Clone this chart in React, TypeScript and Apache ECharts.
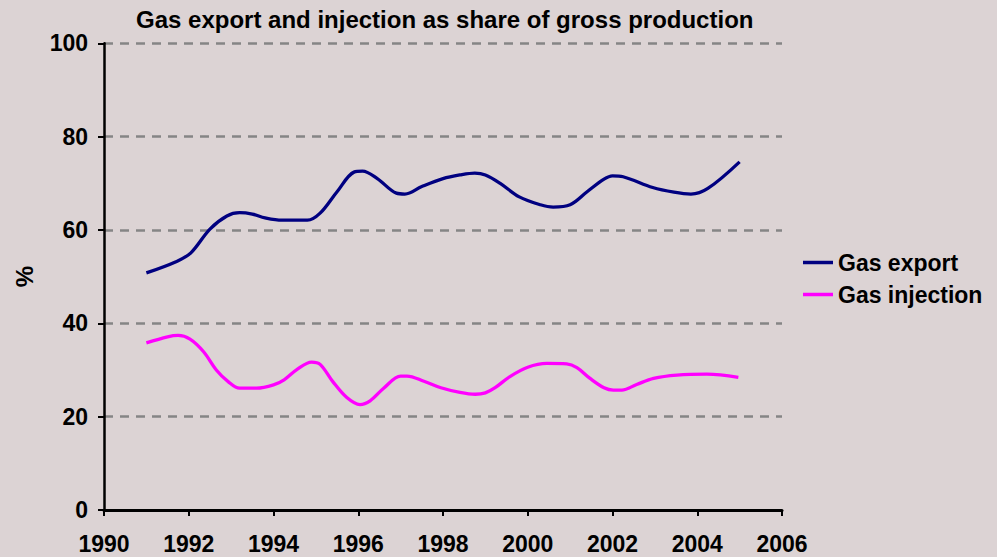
import React, { useEffect, useRef } from "react";
import * as echarts from "echarts";

const titleText = "Gas export and injection as share of gross production";
const yAxisName = "%";
const seriesNames = ["Gas export", "Gas injection"];
const seriesColors = ["#000080", "#FF00FF"];

const exportYears = [1991.0, 1991.7, 1992.05, 1992.5, 1992.9, 1993.2, 1993.5, 1993.8, 1994.2, 1994.8, 1995.1, 1995.5, 1995.9, 1996.1, 1996.45, 1996.9, 1997.1, 1997.5, 1998.0, 1998.4, 1998.75, 1999.0, 1999.35, 1999.8, 2000.3, 2000.6, 2001.0, 2001.4, 2001.8, 2002.0, 2002.25, 2002.95, 2003.45, 2003.85, 2004.25, 2005.0];
const exportValues = [50.8, 53.2, 55.1, 60.2, 63.0, 63.7, 63.4, 62.6, 62.1, 62.1, 63.6, 68.2, 72.4, 72.6, 71.0, 67.9, 67.7, 69.3, 71.0, 71.8, 72.2, 71.8, 70.0, 67.1, 65.4, 64.9, 65.4, 68.2, 70.9, 71.6, 71.4, 69.1, 68.1, 67.7, 68.9, 74.6];

const injectionYears = [1991.0, 1991.5, 1991.75, 1992.03, 1992.35, 1992.65, 1992.93, 1993.2, 1993.6, 1994.0, 1994.25, 1994.55, 1994.9, 1995.1, 1995.4, 1995.73, 1996.04, 1996.28, 1996.6, 1997.0, 1997.15, 1997.55, 1997.95, 1998.4, 1998.76, 1999.0, 1999.23, 1999.58, 2000.0, 2000.45, 2000.92, 2001.16, 2001.47, 2001.8, 2002.02, 2002.22, 2002.57, 2002.97, 2003.52, 2004.23, 2004.97];
const injectionValues = [35.8, 37.1, 37.4, 36.6, 33.9, 30.0, 27.5, 26.1, 26.1, 26.8, 27.9, 30.1, 31.7, 31.2, 27.5, 24.1, 22.6, 23.4, 26.1, 28.7, 28.7, 27.6, 26.2, 25.2, 24.8, 25.1, 26.2, 28.6, 30.6, 31.4, 31.3, 30.5, 28.2, 26.2, 25.7, 25.7, 26.9, 28.2, 28.9, 29.1, 28.4];

const xMin = 1990;
const xMax = 2006;
const xInterval = 2;
const yMin = 0;
const yMax = 100;
const yInterval = 20;

const FONT = "'Liberation Sans', Arial, Helvetica, sans-serif";

export default function App() {
  const ref = useRef<HTMLDivElement>(null);

  useEffect(() => {
    document.body.style.margin = "0";
    if (!ref.current) return;
    const chart = echarts.init(ref.current, undefined, { renderer: "svg" });
    const pair = (xs: number[], ys: number[]) => xs.map((x, i) => [x, ys[i]]);
    chart.setOption({
      animation: false,
      backgroundColor: "#DCD3D4",
      textStyle: { fontFamily: FONT },
      title: {
        text: titleText,
        left: 136,
        top: 7,
        padding: 0,
        textStyle: { fontFamily: FONT, fontSize: 24, fontWeight: "bold", color: "#000" },
      },
      grid: { left: 104, right: 215, top: 43.3, bottom: 47, containLabel: false },
      legend: {
        orient: "vertical",
        left: 798,
        top: 246,
        itemWidth: 30,
        itemHeight: 3.5,
        itemGap: 9,
        icon: "rect",
        data: seriesNames,
        textStyle: { fontFamily: FONT, fontSize: 23, fontWeight: "bold", color: "#000" },
      },
      xAxis: {
        type: "value",
        min: xMin,
        max: xMax,
        interval: xInterval,
        axisLine: { show: true, onZero: false, lineStyle: { color: "#000", width: 3 } },
        axisTick: { show: true, length: 6, lineStyle: { color: "#000", width: 2 } },
        splitLine: { show: false },
        axisLabel: {
          margin: 22,
          fontFamily: FONT,
          fontSize: 23,
          fontWeight: "bold",
          color: "#000",
          formatter: (v: number) => String(v),
        },
      },
      yAxis: {
        type: "value",
        min: yMin,
        max: yMax,
        interval: yInterval,
        name: yAxisName,
        nameLocation: "middle",
        nameRotate: 90,
        nameGap: 68,
        nameTextStyle: { fontFamily: FONT, fontSize: 24, fontWeight: "bold", color: "#000" },
        axisLine: { show: true, lineStyle: { color: "#000", width: 2.5 } },
        axisTick: { show: true, length: 6, lineStyle: { color: "#000", width: 2 } },
        splitLine: {
          show: true,
          lineStyle: { color: "#858585", width: 2.5, type: [9, 7] },
        },
        axisLabel: {
          margin: 16,
          fontFamily: FONT,
          fontSize: 23,
          fontWeight: "bold",
          color: "#000",
        },
      },
      series: [
        {
          name: seriesNames[0],
          type: "line",
          data: pair(exportYears, exportValues),
          smooth: 0.35,
          showSymbol: false,
          color: seriesColors[0],
          lineStyle: { color: seriesColors[0], width: 3.3 },
        },
        {
          name: seriesNames[1],
          type: "line",
          data: pair(injectionYears, injectionValues),
          smooth: 0.35,
          showSymbol: false,
          color: seriesColors[1],
          lineStyle: { color: seriesColors[1], width: 3.3 },
        },
      ],
    });
    return () => chart.dispose();
  }, []);

  return (
    <div
      ref={ref}
      style={{ position: "absolute", left: 0, top: 0, width: 997, height: 557 }}
    />
  );
}
